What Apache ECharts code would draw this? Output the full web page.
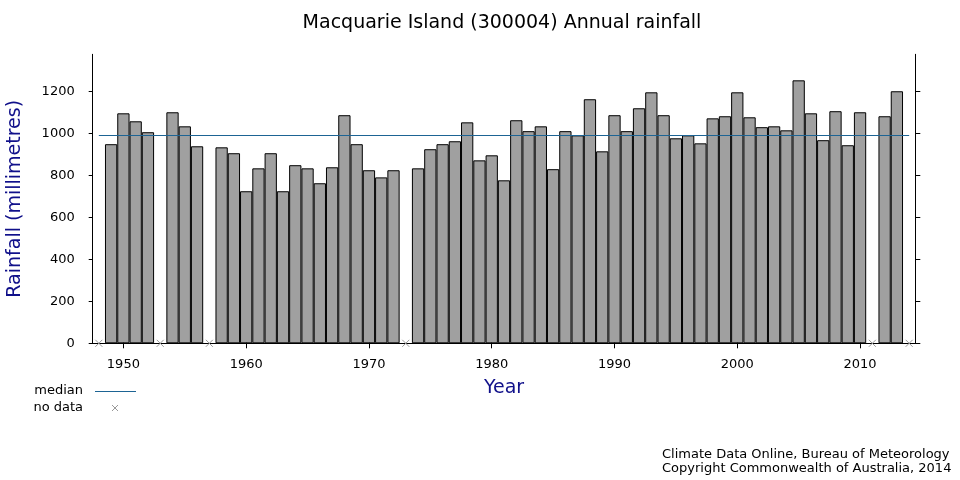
<!DOCTYPE html>
<html>
<head>
<meta charset="utf-8">
<script src="https://cdn.jsdelivr.net/npm/echarts@6/dist/echarts.min.js"></script>
<style>
  html, body { margin: 0; padding: 0; background: #fff; }
  #chart { width: 960px; height: 480px; }
</style>
</head>
<body>
<div id="chart"></div>
<script>
// years on the x axis, one bar per year
var YEARS = ['1948', '1949', '1950', '1951', '1952', '1953', '1954', '1955', '1956', '1957',
  '1958', '1959', '1960', '1961', '1962', '1963', '1964', '1965', '1966', '1967',
  '1968', '1969', '1970', '1971', '1972', '1973', '1974', '1975', '1976', '1977',
  '1978', '1979', '1980', '1981', '1982', '1983', '1984', '1985', '1986', '1987',
  '1988', '1989', '1990', '1991', '1992', '1993', '1994', '1995', '1996', '1997',
  '1998', '1999', '2000', '2001', '2002', '2003', '2004', '2005', '2006', '2007',
  '2008', '2009', '2010', '2011', '2012', '2013', '2014'];

// annual rainfall (mm), null = no data
var RAINFALL = [null, 948, 1095, 1057, 1005, null, 1100, 1033, 938, null,
  933, 905, 724, 833, 905, 724, 848, 833, 762, 838,
  1086, 948, 824, 790, 824, null, 833, 924, 948, 962,
  1052, 871, 895, 776, 1062, 1010, 1033, 829, 1010, 990,
  1162, 914, 1086, 1010, 1119, 1195, 1086, 976, 990, 952,
  1071, 1081, 1195, 1076, 1029, 1033, 1014, 1252, 1095, 967,
  1105, 943, 1100, null, 1081, 1200, null];

var MEDIAN = 989;
var Y_TICKS = [0, 200, 400, 600, 800, 1000, 1200];
var Y_MAX = 1376;

var noData = [];
RAINFALL.forEach(function (v, i) {
  if (v === null) noData.push([YEARS[i], 0]);
});

var FONT = 'DejaVu Sans';
var NAVY = '#10108a';
var BLUE = '#1d6494';
var isDecade = function (index, value) { return Number(value) % 10 === 0; };

var chart = echarts.init(document.getElementById('chart'), null, { renderer: 'canvas' });

chart.setOption({
  animation: false,
  backgroundColor: '#fff',
  textStyle: { fontFamily: FONT },
  title: {
    text: 'Macquarie Island (300004) Annual rainfall',
    left: 497, top: 9, textAlign: 'center',
    textStyle: { fontFamily: FONT, fontSize: 19, fontWeight: 'normal', color: '#000' }
  },
  grid: { left: 92.7, right: 44.7, top: 54.3, bottom: 136.7, containLabel: false, outerBoundsMode: 'none' },
  xAxis: [{
    type: 'category',
    data: YEARS,
    boundaryGap: true,
    position: 'bottom',
    name: 'Year',
    nameLocation: 'middle',
    nameGap: 35,
    nameTextStyle: { fontFamily: FONT, fontSize: 19, color: NAVY },
    axisLine: { show: true, lineStyle: { color: '#000', width: 1 } },
    axisTick: { show: true, alignWithLabel: true, interval: isDecade, length: 5, lineStyle: { color: '#000' } },
    axisLabel: { interval: isDecade, margin: 15, fontFamily: FONT, fontSize: 13, color: '#000' },
    splitLine: { show: false }
  }, {
    type: 'category',
    data: YEARS,
    boundaryGap: true,
    position: 'top',
    axisLine: { show: true, lineStyle: { color: '#000', width: 1 } },
    axisTick: { show: true, alignWithLabel: true, interval: isDecade, length: 4, lineStyle: { color: '#000' } },
    axisLabel: { show: false },
    splitLine: { show: false }
  }],
  yAxis: [{
    type: 'value',
    min: 0, max: Y_MAX,
    position: 'left',
    name: 'Rainfall (millimetres)',
    nameLocation: 'middle',
    nameGap: 68,
    nameTextStyle: { fontFamily: FONT, fontSize: 19, color: NAVY },
    axisLine: { show: true, lineStyle: { color: '#000', width: 1 } },
    axisTick: { show: true, customValues: Y_TICKS, length: 4, lineStyle: { color: '#000' } },
    axisLabel: {
      customValues: Y_TICKS, margin: 18, fontFamily: FONT, fontSize: 13, color: '#000',
      formatter: function (v) { return String(v); }
    },
    splitLine: { show: false }
  }, {
    type: 'value',
    min: 0, max: Y_MAX,
    position: 'right',
    axisLine: { show: true, lineStyle: { color: '#000', width: 1 } },
    axisTick: { show: true, customValues: Y_TICKS, length: 5, lineStyle: { color: '#000' } },
    axisLabel: { show: false },
    splitLine: { show: false }
  }],
  series: [{
    type: 'bar',
    name: 'rainfall',
    data: RAINFALL,
    xAxisIndex: 0, yAxisIndex: 0,
    barWidth: '100%',
    barCategoryGap: '0%',
    itemStyle: { color: '#a0a0a0', borderColor: '#000', borderWidth: 1 },
    markLine: {
      silent: true,
      symbol: 'none',
      label: { show: false },
      lineStyle: { color: BLUE, width: 1, type: 'solid', opacity: 1 },
      data: [[{ coord: [YEARS[0], MEDIAN] }, { coord: [YEARS[YEARS.length - 1], MEDIAN] }]]
    }
  }, {
    type: 'scatter',
    name: 'no data',
    data: noData,
    xAxisIndex: 0, yAxisIndex: 0,
    clip: false,
    z: 5,
    symbol: 'path://M0,0L10,10M10,0L0,10',
    symbolSize: 7,
    itemStyle: { color: 'none', borderColor: '#999', borderWidth: 1, opacity: 1 }
  }],
  graphic: [
    { type: 'text', x: 83, y: 391,
      style: { text: 'median', fontFamily: FONT, fontSize: 13, fill: '#000', align: 'right', verticalAlign: 'middle' } },
    { type: 'line', shape: { x1: 95, y1: 391.5, x2: 136, y2: 391.5 },
      style: { stroke: BLUE, lineWidth: 1 } },
    { type: 'text', x: 83, y: 408,
      style: { text: 'no data', fontFamily: FONT, fontSize: 13, fill: '#000', align: 'right', verticalAlign: 'middle' } },
    { type: 'line', shape: { x1: 112, y1: 405, x2: 118, y2: 411 },
      style: { stroke: '#999', lineWidth: 1 } },
    { type: 'line', shape: { x1: 118, y1: 405, x2: 112, y2: 411 },
      style: { stroke: '#999', lineWidth: 1 } },
    { type: 'text', x: 662, y: 448,
      style: { text: 'Climate Data Online, Bureau of Meteorology\nCopyright Commonwealth of Australia, 2014',
        fontFamily: FONT, fontSize: 13, lineHeight: 14, fill: '#000', align: 'left', verticalAlign: 'top' } }
  ]
});
</script>
</body>
</html>
